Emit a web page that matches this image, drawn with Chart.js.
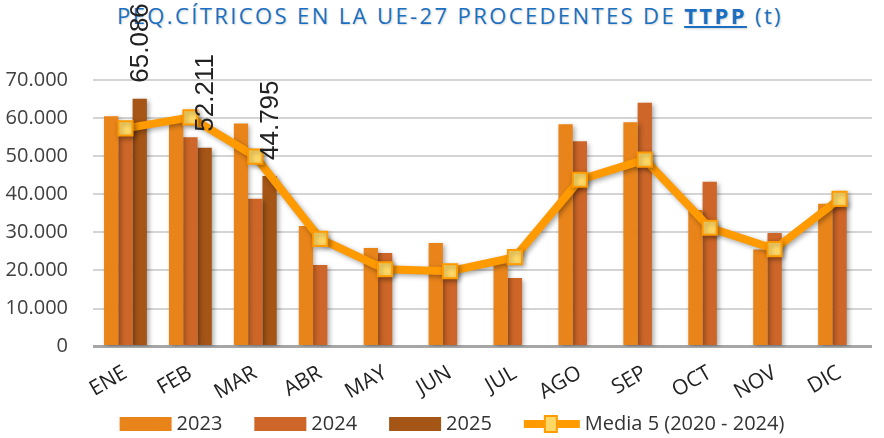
<!DOCTYPE html>
<html>
<head>
<meta charset="utf-8">
<script src="https://cdn.jsdelivr.net/npm/chart.js@4/dist/chart.umd.min.js"></script>
<style>
  html, body { margin: 0; padding: 0; background: #fff; }
  #wrap { position: relative; width: 884px; height: 438px; }
  #title {
    position: absolute; top: 0px; left: 0; width: 884px;
    text-align: center; white-space: nowrap;
    font: 22px "Open Sans", sans-serif; color: #1a6fc0;
    text-shadow: 1px 1px 2px rgba(0,0,0,0.18);
    z-index: 0;
  }
  #title span { padding-left: 16px; }
  #title b { text-decoration: underline; }
  #chart { position: absolute; left: 0; top: 0; z-index: 1; }
</style>
</head>
<body>
<div id="wrap">
  <div id="title"><span id="titleText">PEQ.CÍTRICOS EN LA UE-27 PROCEDENTES DE <b>TTPP</b> (t)</span></div>
  <canvas id="chart" width="884" height="438"></canvas>
</div>
<script>
const months = ["ENE", "FEB", "MAR", "ABR", "MAY", "JUN", "JUL", "AGO", "SEP", "OCT", "NOV", "DIC"];
const v2023 = [60500, 59000, 58600, 31700, 25900, 27200, 21900, 58400, 58900, 35900, 25500, 37500];
const v2024 = [57000, 55000, 38800, 21400, 24600, 21500, 18000, 53900, 64000, 43300, 29800, 38500];
const v2025 = [65086, 52211, 44795, null, null, null, null, null, null, null, null, null];
const media5 = [57300, 60200, 49900, 28300, 20300, 19800, 23500, 43800, 49100, 31200, 25600, 38800];
const yTicks = [0, 10000, 20000, 30000, 40000, 50000, 60000, 70000];

const c2023 = "#e8841a";
const c2024 = "#cd6628";
const c2025 = "#a55516";
const cLine = "#ff9a00";
const cMark = "#ffd966";

function fmt(v) {
  return String(v).replace(/\B(?=(\d{3})+(?!\d))/g, ".");
}

// stretch title spacing to match the original width
(function () {
  const t = document.getElementById("titleText");
  const n = t.textContent.length;
  const w = t.getBoundingClientRect().width - 16;
  t.style.letterSpacing = ((666 - w) / n) + "px";
})();

const shadowPlugin = {
  id: "shadow",
  beforeDatasetDraw(chart) {
    const ctx = chart.ctx;
    ctx.save();
    ctx.shadowColor = "rgba(0,0,0,0.35)";
    ctx.shadowBlur = 5;
    ctx.shadowOffsetX = 2;
    ctx.shadowOffsetY = 2;
  },
  afterDatasetDraw(chart) {
    chart.ctx.restore();
  }
};

const labelPlugin = {
  id: "labels2025",
  afterDatasetsDraw(chart) {
    const ctx = chart.ctx;
    const idx = chart.data.datasets.findIndex(d => d.label === "2025");
    const meta = chart.getDatasetMeta(idx);
    ctx.save();
    ctx.font = '26px "Liberation Sans", Arial, sans-serif';
    ctx.fillStyle = "#222";
    ctx.textAlign = "left";
    ctx.textBaseline = "middle";
    meta.data.forEach((bar, i) => {
      const v = v2025[i];
      if (v == null) return;
      ctx.save();
      ctx.translate(bar.x + 1, bar.y - 16);
      ctx.rotate(-Math.PI / 2);
      ctx.fillText(fmt(v), 0, 0);
      ctx.restore();
    });
    ctx.restore();
  }
};

// simple legend under the axis labels
const legendPlugin = {
  id: "bottomLegend",
  afterDraw(chart) {
    const ctx = chart.ctx;
    ctx.save();
    ctx.font = '20px "Open Sans", sans-serif';
    ctx.textBaseline = "middle";
    ctx.textAlign = "left";
    const items = [
      { text: "2023", color: c2023 },
      { text: "2024", color: c2024 },
      { text: "2025", color: c2025 },
      { text: "Media 5 (2020 - 2024)", line: true },
    ];
    const sw = 52, gap = 5, between = 32, yc = 424;
    const widths = items.map(it => sw + gap + ctx.measureText(it.text).width);
    const total = widths.reduce((a, b) => a + b, 0) + between * (items.length - 1);
    let x = 450 - total / 2;
    items.forEach((it, i) => {
      if (it.line) {
        ctx.fillStyle = cLine;
        ctx.fillRect(x, yc - 4, sw + 4, 8);
        ctx.fillStyle = cMark;
        ctx.strokeStyle = cLine;
        ctx.lineWidth = 2;
        ctx.fillRect(x + sw / 2 - 5, yc - 8, 12, 16);
        ctx.strokeRect(x + sw / 2 - 5, yc - 8, 12, 16);
      } else {
        ctx.fillStyle = it.color;
        ctx.fillRect(x, yc - 7, sw, 14);
      }
      ctx.fillStyle = "#333";
      ctx.fillText(it.text, x + sw + gap + (it.line ? 4 : 0), yc);
      x += widths[i] + between;
    });
    ctx.restore();
  }
};

const ctx = document.getElementById("chart").getContext("2d");
const chart = new Chart(ctx, {
  type: "bar",
  data: {
    labels: months,
    datasets: [
      {
        type: "line",
        label: "Media 5 (2020 - 2024)",
        data: media5,
        borderColor: cLine,
        borderWidth: 8,
        tension: 0,
        pointStyle: "rect",
        pointRadius: 10,
        pointBorderWidth: 2,
        pointBorderColor: cLine,
        pointBackgroundColor: cMark,
        order: 0,
      },
      { label: "2023", data: v2023, backgroundColor: c2023, order: 1 },
      { label: "2024", data: v2024, backgroundColor: c2024, order: 1 },
      { label: "2025", data: v2025, backgroundColor: c2025, order: 1 },
    ],
  },
  options: {
    responsive: false,
    animation: false,
    layout: { padding: { top: 80, left: 0, right: 0, bottom: 27 } },
    datasets: {
      bar: { barPercentage: 1, categoryPercentage: 0.66 },
    },
    plugins: {
      title: { display: false },
      tooltip: { enabled: false },
      legend: { display: false },
    },
    scales: {
      x: {
        grid: { display: false },
        border: { display: false },
        ticks: {
          minRotation: 30,
          maxRotation: 30,
          padding: 6,
          color: "#222",
          font: { family: "Open Sans", size: 21 },
        },
      },
      y: {
        min: 0,
        max: 70000,
        afterFit(scale) { scale.width = 93; },
        afterBuildTicks(scale) { scale.ticks = yTicks.map(v => ({ value: v })); },
        border: { display: false },
        grid: {
          drawTicks: false,
          color: c => (c.tick && c.tick.value === 0 ? "#a6a6a6" : "#d4d4d4"),
          lineWidth: c => (c.tick && c.tick.value === 0 ? 3 : 2),
        },
        ticks: {
          padding: 25,
          color: "#404040",
          font: { family: "Open Sans", size: 20 },
          callback: v => fmt(v),
        },
      },
    },
  },
  plugins: [shadowPlugin, labelPlugin, legendPlugin],
});
</script>
</body>
</html>
